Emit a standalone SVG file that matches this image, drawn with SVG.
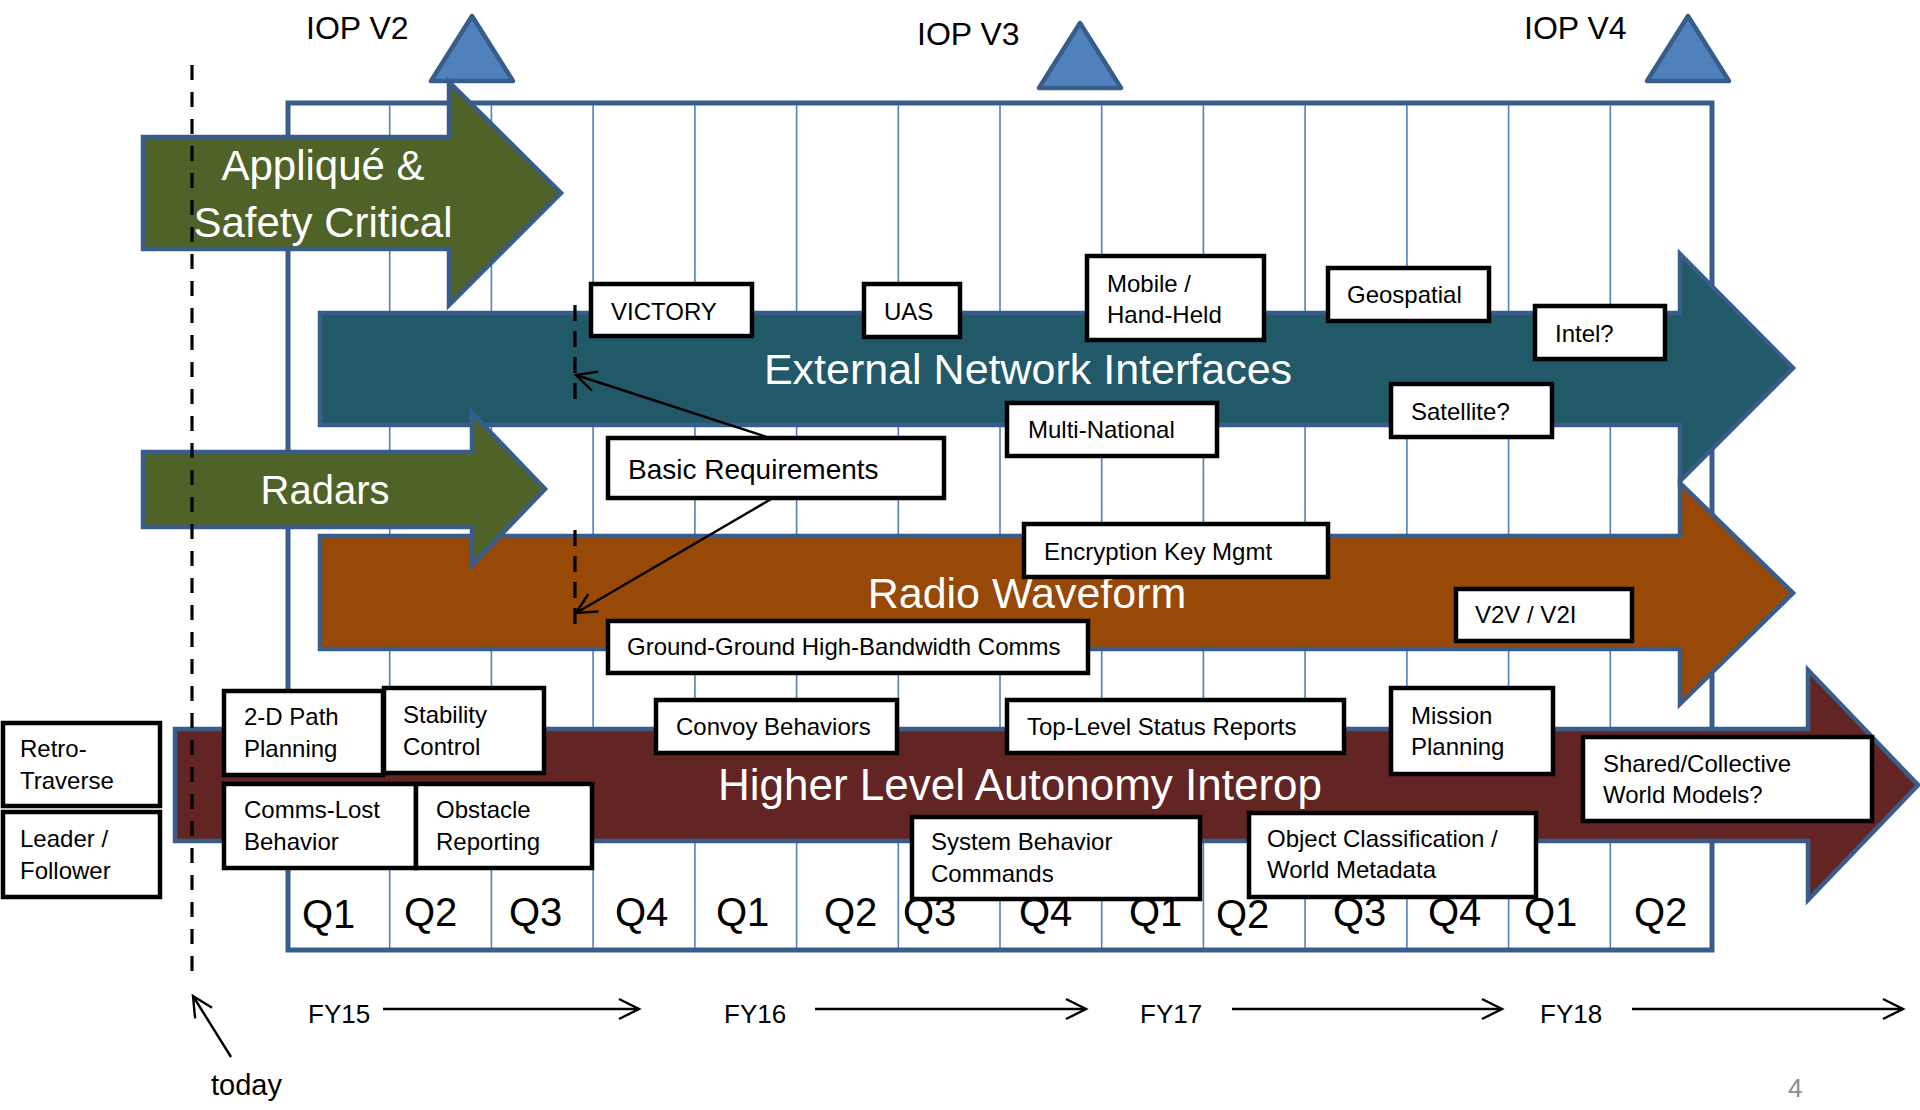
<svg xmlns="http://www.w3.org/2000/svg" width="1920" height="1110" viewBox="0 0 1920 1110">
<style>
text{font-family:"Liberation Sans",Arial,sans-serif;fill:#000}
.iop{font-size:32px}
.q{font-size:40px}
.fy{font-size:26px}
.lbl{font-size:24px}
.big{fill:#fff;text-anchor:middle}
.box{fill:#fff;stroke:#000;stroke-width:4.5}
.band{stroke:#385D8A;stroke-width:4.5;stroke-linejoin:miter}
.tri{fill:#4F81BD;stroke:#385D8A;stroke-width:4.5;stroke-linejoin:round}
.gl{stroke:#4F81BD;stroke-width:1.6}
.ln{stroke:#000;stroke-width:2.4;fill:none}
.dash{stroke:#000;stroke-width:3.2;fill:none}
</style>
<defs>
<marker id="open" markerUnits="userSpaceOnUse" markerWidth="26" markerHeight="26" viewBox="0 0 26 26" refX="23" refY="13" orient="auto">
<path d="M3,3 L23,13 L3,23" fill="none" stroke="#000" stroke-width="2.4"/>
</marker>
</defs>
<rect width="1920" height="1110" fill="#fff"/>

<g id="timeline-grid">
<rect x="288" y="103" width="1424" height="847" fill="#fff" stroke="#385D8A" stroke-width="5"/>
<line class="gl" x1="389.7" y1="105" x2="389.7" y2="948"/>
<line class="gl" x1="491.4" y1="105" x2="491.4" y2="948"/>
<line class="gl" x1="593.1" y1="105" x2="593.1" y2="948"/>
<line class="gl" x1="694.9" y1="105" x2="694.9" y2="948"/>
<line class="gl" x1="796.6" y1="105" x2="796.6" y2="948"/>
<line class="gl" x1="898.3" y1="105" x2="898.3" y2="948"/>
<line class="gl" x1="1000" y1="105" x2="1000" y2="948"/>
<line class="gl" x1="1101.7" y1="105" x2="1101.7" y2="948"/>
<line class="gl" x1="1203.4" y1="105" x2="1203.4" y2="948"/>
<line class="gl" x1="1305.1" y1="105" x2="1305.1" y2="948"/>
<line class="gl" x1="1406.9" y1="105" x2="1406.9" y2="948"/>
<line class="gl" x1="1508.6" y1="105" x2="1508.6" y2="948"/>
<line class="gl" x1="1610.3" y1="105" x2="1610.3" y2="948"/>
<text class="q" x="302" y="928">Q1</text>
<text class="q" x="404" y="926">Q2</text>
<text class="q" x="509" y="926">Q3</text>
<text class="q" x="615" y="926">Q4</text>
<text class="q" x="716" y="926">Q1</text>
<text class="q" x="824" y="926">Q2</text>
<text class="q" x="903" y="926">Q3</text>
<text class="q" x="1019" y="926">Q4</text>
<text class="q" x="1129" y="926">Q1</text>
<text class="q" x="1216" y="928">Q2</text>
<text class="q" x="1333" y="926">Q3</text>
<text class="q" x="1428" y="926">Q4</text>
<text class="q" x="1524" y="926">Q1</text>
<text class="q" x="1634" y="926">Q2</text>
</g>

<g id="milestones">
<g id="iop-v2"><polygon class="tri" points="472,16 431,81 513,81"/><text class="iop" x="306" y="39">IOP V2</text></g>
<g id="iop-v3"><polygon class="tri" points="1080,23 1039,88 1121,88"/><text class="iop" x="917" y="45">IOP V3</text></g>
<g id="iop-v4"><polygon class="tri" points="1688,16 1647,81 1729,81"/><text class="iop" x="1524" y="39">IOP V4</text></g>
</g>

<g id="band-external">
<polygon class="band" fill="#215968" points="320,313 1680,313 1680,254 1793,368 1680,481 1680,425 320,425"/>
<text class="big" x="1028" y="384" font-size="43">External Network Interfaces</text>
</g>
<g id="band-radio">
<polygon class="band" fill="#984807" points="320,536 1680,536 1680,483 1793,593 1680,704 1680,649 320,649"/>
<text class="big" x="1027" y="608" font-size="43">Radio Waveform</text>
</g>
<g id="band-autonomy">
<polygon class="band" fill="#632523" points="175,729 1808,729 1808,670 1918,785 1808,900 1808,841 175,841"/>
<text class="big" x="1020" y="800" font-size="44">Higher Level Autonomy Interop</text>
</g>
<g id="band-applique">
<polygon class="band" fill="#4F6228" points="143,137 449,137 449,82 561,193 449,305 449,249 143,249"/>
<text class="big" x="323" y="180" font-size="42">Appliqué &amp;</text>
<text class="big" x="323" y="237" font-size="42">Safety Critical</text>
</g>
<g id="band-radars">
<polygon class="band" fill="#4F6228" points="143,452 472,452 472,413 545,489 472,565 472,527 143,527"/>
<text class="big" x="325" y="504" font-size="40">Radars</text>
</g>

<g id="connectors">
<line class="dash" x1="192" y1="65" x2="192" y2="977" stroke-dasharray="15 12"/>
<line class="dash" x1="575" y1="305" x2="575" y2="405" stroke-dasharray="16 10"/>
<line class="dash" x1="575" y1="530" x2="575" y2="628" stroke-dasharray="16 10"/>
<line class="ln" x1="770" y1="438" x2="576" y2="375" marker-end="url(#open)"/>
<line class="ln" x1="773" y1="498" x2="576" y2="613" marker-end="url(#open)"/>
<line class="ln" x1="231" y1="1057" x2="193" y2="996" marker-end="url(#open)"/>
<line class="ln" x1="383" y1="1009" x2="639" y2="1009" marker-end="url(#open)"/>
<line class="ln" x1="815" y1="1009" x2="1086" y2="1009" marker-end="url(#open)"/>
<line class="ln" x1="1232" y1="1009" x2="1502" y2="1009" marker-end="url(#open)"/>
<line class="ln" x1="1632" y1="1009" x2="1903" y2="1009" marker-end="url(#open)"/>
</g>

<g id="axis-labels">
<text class="fy" x="308" y="1023">FY15</text>
<text class="fy" x="724" y="1023">FY16</text>
<text class="fy" x="1140" y="1023">FY17</text>
<text class="fy" x="1540" y="1023">FY18</text>
<text x="211" y="1095" font-size="29">today</text>
<text x="1788" y="1097" font-size="26" fill="#8C8C8C" style="fill:#8C8C8C">4</text>
</g>

<g id="basic-requirements"><rect class="box" x="608" y="438" width="336" height="60"/><text x="628" y="479" font-size="28">Basic Requirements</text></g>
<g id="victory"><rect class="box" x="591" y="284" width="161" height="52"/><text class="lbl" x="611" y="320">VICTORY</text></g>
<g id="uas"><rect class="box" x="864" y="284" width="96" height="53"/><text class="lbl" x="884" y="320">UAS</text></g>
<g id="mobile"><rect class="box" x="1087" y="256" width="177" height="84"/><text class="lbl" x="1107" y="292">Mobile /</text><text class="lbl" x="1107" y="323">Hand-Held</text></g>
<g id="geospatial"><rect class="box" x="1328" y="268" width="161" height="53"/><text class="lbl" x="1347" y="303">Geospatial</text></g>
<g id="intel"><rect class="box" x="1535" y="306" width="130" height="53"/><text class="lbl" x="1555" y="342">Intel?</text></g>
<g id="satellite"><rect class="box" x="1391" y="384" width="161" height="53"/><text class="lbl" x="1411" y="420">Satellite?</text></g>
<g id="multi-national"><rect class="box" x="1007" y="403" width="210" height="53"/><text class="lbl" x="1028" y="438">Multi-National</text></g>
<g id="encryption"><rect class="box" x="1024" y="524" width="304" height="53"/><text class="lbl" x="1044" y="560">Encryption Key Mgmt</text></g>
<g id="ground-ground"><rect class="box" x="608" y="621" width="480" height="52"/><text class="lbl" x="627" y="655">Ground-Ground High-Bandwidth Comms</text></g>
<g id="v2v"><rect class="box" x="1456" y="589" width="176" height="52"/><text class="lbl" x="1475" y="623">V2V / V2I</text></g>
<g id="convoy"><rect class="box" x="656" y="700" width="241" height="53"/><text class="lbl" x="676" y="735">Convoy Behaviors</text></g>
<g id="top-level"><rect class="box" x="1007" y="700" width="337" height="53"/><text class="lbl" x="1027" y="735">Top-Level Status Reports</text></g>
<g id="mission"><rect class="box" x="1391" y="688" width="162" height="86"/><text class="lbl" x="1411" y="724">Mission</text><text class="lbl" x="1411" y="755">Planning</text></g>
<g id="shared"><rect class="box" x="1583" y="737" width="289" height="84"/><text class="lbl" x="1603" y="772">Shared/Collective</text><text class="lbl" x="1603" y="803">World Models?</text></g>
<g id="object-class"><rect class="box" x="1249" y="813" width="287" height="84"/><text class="lbl" x="1267" y="847">Object Classification /</text><text class="lbl" x="1267" y="878">World Metadata</text></g>
<g id="system-behavior"><rect class="box" x="912" y="817" width="288" height="82"/><text class="lbl" x="931" y="850">System Behavior</text><text class="lbl" x="931" y="882">Commands</text></g>
<g id="path-planning"><rect class="box" x="224" y="691" width="159" height="84"/><text class="lbl" x="244" y="725">2-D Path</text><text class="lbl" x="244" y="757">Planning</text></g>
<g id="stability"><rect class="box" x="384" y="688" width="160" height="85"/><text class="lbl" x="403" y="723">Stability</text><text class="lbl" x="403" y="755">Control</text></g>
<g id="comms-lost"><rect class="box" x="224" y="784" width="192" height="84"/><text class="lbl" x="244" y="818">Comms-Lost</text><text class="lbl" x="244" y="850">Behavior</text></g>
<g id="obstacle"><rect class="box" x="416" y="784" width="176" height="84"/><text class="lbl" x="436" y="818">Obstacle</text><text class="lbl" x="436" y="850">Reporting</text></g>
<g id="retro"><rect class="box" x="3" y="723" width="157" height="83"/><text class="lbl" x="20" y="757">Retro-</text><text class="lbl" x="20" y="789">Traverse</text></g>
<g id="leader"><rect class="box" x="3" y="812" width="157" height="85"/><text class="lbl" x="20" y="847">Leader /</text><text class="lbl" x="20" y="879">Follower</text></g>
</svg>
